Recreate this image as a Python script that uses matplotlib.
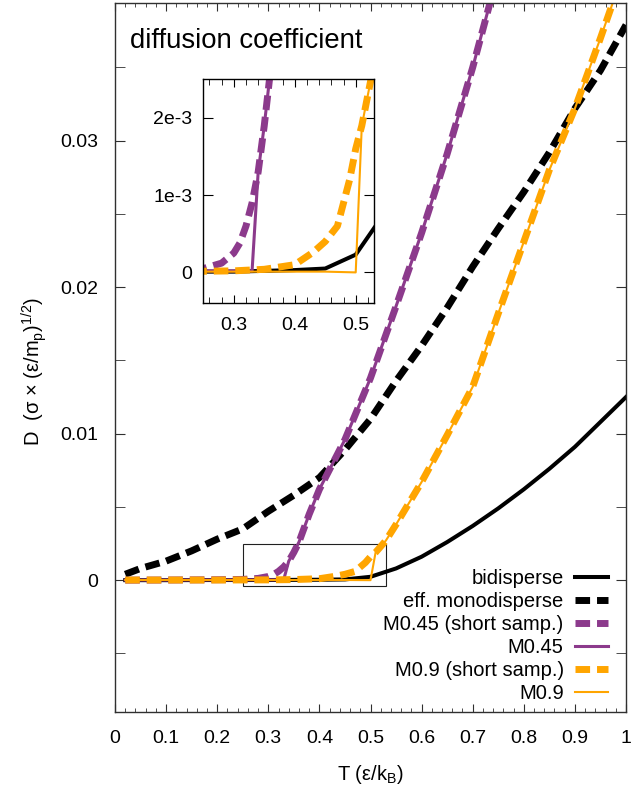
import matplotlib
matplotlib.use("Agg")
import matplotlib.pyplot as plt
from matplotlib.patches import Rectangle
from matplotlib.ticker import MultipleLocator, FixedLocator, FixedFormatter

plt.rcParams['font.family'] = ['Liberation Sans', 'DejaVu Sans']
plt.rcParams['mathtext.fontset'] = 'custom'
plt.rcParams['mathtext.rm'] = 'Liberation Sans'

PURPLE = '#8c3a8c'
ORANGE = '#ffa500'

# bidisperse mixture
T_bi = [0.02, 0.10, 0.20, 0.30, 0.35, 0.40, 0.45, 0.50, 0.55, 0.60, 0.65,
        0.70, 0.75, 0.80, 0.85, 0.90, 0.95, 1.00]
D_bi = [0.0, 0.0, 0.00001, 0.00001, 0.00002, 0.00003, 0.00005, 0.00023,
        0.0008, 0.0016, 0.0026, 0.0037, 0.0049, 0.0062, 0.0076, 0.0091,
        0.0108, 0.0125]

# effective monodisperse system
T_eff = [0.02, 0.05, 0.10, 0.15, 0.20, 0.25, 0.30, 0.35, 0.40, 0.45, 0.50,
         0.55, 0.60, 0.65, 0.70, 0.75, 0.80, 0.85, 0.90, 0.95, 1.00]
D_eff = [0.0004, 0.0008, 0.0013, 0.0020, 0.0028, 0.0035, 0.0047, 0.0058,
         0.0070, 0.0089, 0.0110, 0.0136, 0.0160, 0.0186, 0.0214, 0.0240,
         0.0265, 0.0292, 0.0322, 0.0348, 0.0379]

# M0.45, short sampling and full run
T_m45s = [0.02, 0.10, 0.20, 0.25, 0.28, 0.30, 0.31, 0.32, 0.33, 0.34, 0.35,
          0.36, 0.38, 0.40, 0.45, 0.50, 0.55, 0.60, 0.65, 0.70, 0.75]
D_m45s = [0.0, 0.00001, 0.00003, 0.00005, 0.00012, 0.00025, 0.00038, 0.0006,
          0.0009, 0.0013, 0.0019, 0.0026, 0.0045, 0.0062, 0.0096, 0.0138,
          0.0187, 0.0237, 0.0291, 0.0350, 0.0415]
T_m45 = [0.02, 0.10, 0.20, 0.25, 0.30, 0.33, 0.34, 0.35, 0.36, 0.38, 0.40,
         0.45, 0.50, 0.55, 0.60, 0.65, 0.70, 0.75]
D_m45 = [0.00001, 0.00001, 0.00002, 0.00002, 0.00002, 0.00002, 0.0013,
         0.0019, 0.0026, 0.0045, 0.0062, 0.0096, 0.0138, 0.0187, 0.0237,
         0.0291, 0.0350, 0.0415]

# M0.9, short sampling and full run
T_m9s = [0.02, 0.10, 0.20, 0.30, 0.35, 0.40, 0.43, 0.45, 0.47, 0.48, 0.49,
         0.50, 0.51, 0.52, 0.53, 0.55, 0.60, 0.65, 0.70, 0.75, 0.80, 0.85,
         0.90, 0.95, 1.00]
D_m9s = [0.00001, 0.00001, 0.00001, 0.00002, 0.00004, 0.0001, 0.00026,
         0.0004, 0.0006, 0.0009, 0.0012, 0.0016, 0.0019, 0.0023, 0.0027,
         0.0038, 0.0067, 0.0099, 0.0132, 0.0182, 0.0231, 0.0280, 0.0322,
         0.0370, 0.0420]
T_m9 = [0.02, 0.10, 0.20, 0.30, 0.40, 0.45, 0.50, 0.51, 0.52, 0.53, 0.55,
        0.60, 0.65, 0.70, 0.75, 0.80, 0.85, 0.90, 0.95, 1.00]
D_m9 = [0.00001, 0.00001, 0.00001, 0.00001, 0.00001, 0.00001, 0.0, 0.0019,
        0.0023, 0.0027, 0.0038, 0.0067, 0.0099, 0.0132, 0.0182, 0.0231,
        0.0280, 0.0322, 0.0370, 0.0420]

labels = ['bidisperse', 'eff. monodisperse', 'M0.45 (short samp.)', 'M0.45',
          'M0.9 (short samp.)', 'M0.9']

DASH = (0, (2.1, 1.0))


def draw_curves(ax):
    lines = []
    lines += ax.plot(T_bi, D_bi, color='black', lw=2.9)
    lines += ax.plot(T_eff, D_eff, color='black', lw=5.0, ls=DASH)
    lines += ax.plot(T_m45s, D_m45s, color=PURPLE, lw=5.0, ls=DASH)
    lines += ax.plot(T_m45, D_m45, color=PURPLE, lw=2.2)
    lines += ax.plot(T_m9s, D_m9s, color=ORANGE, lw=5.0, ls=DASH)
    lines += ax.plot(T_m9, D_m9, color=ORANGE, lw=1.5)
    return lines


W, H = 634, 789
fig = plt.figure(figsize=(W / 100, H / 100), dpi=100)

ax = fig.add_axes([115 / W, 1 - 712 / H, 511 / W, 709 / H])
lines = draw_curves(ax)
ax.set_xlim(0, 1)
ax.set_ylim(-0.009, 0.0394)
ax.add_patch(Rectangle((0.25, -0.0004), 0.28, 0.0029, fill=False,
                       ec='#202020', lw=0.8, zorder=1))

ax.xaxis.set_major_locator(FixedLocator([i / 10 for i in range(11)]))
ax.xaxis.set_major_formatter(FixedFormatter(
    ['0', '0.1', '0.2', '0.3', '0.4', '0.5', '0.6', '0.7', '0.8', '0.9', '1']))
ax.xaxis.set_minor_locator(MultipleLocator(0.02))
ax.yaxis.set_major_locator(FixedLocator([0.0, 0.01, 0.02, 0.03]))
ax.yaxis.set_major_formatter(FixedFormatter(['0', '0.01', '0.02', '0.03']))
ax.yaxis.set_minor_locator(FixedLocator([-0.005, 0.005, 0.015, 0.025, 0.035]))
ax.tick_params(which='both', direction='in', top=True, right=True,
               labelsize=14, color='#303030')
ax.tick_params(axis='x', which='major', length=6, pad=13)
ax.tick_params(axis='x', which='minor', length=3)
ax.tick_params(axis='y', which='both', length=7, pad=12)
for s in ax.spines.values():
    s.set_color('#303030')
    s.set_linewidth(1.0)

ax.set_xlabel('T (ε/k$_\\mathregular{B}$)', fontsize=14.5)
ax.xaxis.set_label_coords(0.5, -0.072)
ax.set_ylabel('D  (σ × (ε/m$_\\mathregular{p}$)$^\\mathregular{1/2}$)', fontsize=14.5)
ax.yaxis.set_label_coords(-0.13, 0.48)

fig.text(130 / W, 1 - 48 / H, 'diffusion coefficient', fontsize=19.8,
         va='baseline', ha='left')

ax.legend(lines, labels, loc='lower right', frameon=False, markerfirst=False,
          fontsize=14.5, handlelength=1.65, handletextpad=0.55,
          labelspacing=0.2, borderpad=0, borderaxespad=0,
          bbox_to_anchor=(608 / W, 1 - 703 / H),
          bbox_transform=fig.transFigure)

# zoomed view of the onset region
axi = fig.add_axes([203.3 / W, 1 - 303.3 / H, 170.7 / W, 224 / H])
draw_curves(axi)
axi.set_xlim(0.25, 0.53)
axi.set_ylim(-0.0004, 0.0025)
axi.xaxis.set_major_locator(FixedLocator([0.3, 0.4, 0.5]))
axi.xaxis.set_major_formatter(FixedFormatter(['0.3', '0.4', '0.5']))
axi.xaxis.set_minor_locator(MultipleLocator(0.02))
axi.yaxis.set_major_locator(FixedLocator([0.0, 0.001, 0.002]))
axi.yaxis.set_major_formatter(FixedFormatter(['0', '1e-3', '2e-3']))
axi.tick_params(which='both', direction='in', top=True, right=True,
                labelsize=14)
axi.tick_params(axis='x', which='major', length=6, pad=10)
axi.tick_params(axis='x', which='minor', length=4)
axi.tick_params(axis='y', which='major', length=7, pad=8)
for s in axi.spines.values():
    s.set_linewidth(1.0)

fig.savefig('out.png', dpi=100)
